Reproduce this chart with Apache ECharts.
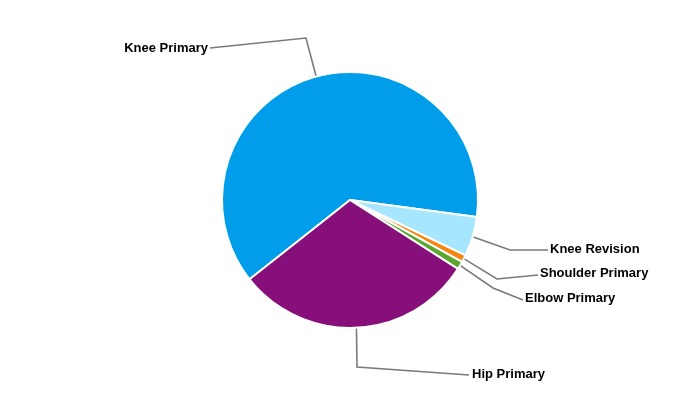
<!DOCTYPE html>
<html>
<head>
<meta charset="utf-8">
<script src="https://cdn.jsdelivr.net/npm/echarts@6/dist/echarts.min.js"></script>
<style>html,body{margin:0;padding:0;background:#fff;}#c{width:700px;height:400px;}</style>
</head>
<body>
<div id="c"></div>
<script>
const categories = ['Knee Primary', 'Knee Revision', 'Shoulder Primary', 'Elbow Primary', 'Hip Primary'];
const values = [62.7, 5.0, 0.9, 1.0, 30.3];
const colors = ['#009EEA', '#A6E6FE', '#F7840C', '#59A631', '#870F7A'];

// label anchor, alignment and leader-line bend for each slice (layout only)
const labelSpots = [
  { x: 208, y: 48, align: 'right', bend: [306, 38], end: [210, 48] },
  { x: 550, y: 249, align: 'left', bend: [510, 250], end: [548, 250] },
  { x: 540, y: 273, align: 'left', bend: [497, 279], end: [538, 275] },
  { x: 525, y: 298, align: 'left', bend: [493, 288], end: [523, 300] },
  { x: 472, y: 374, align: 'left', bend: [357, 367], end: [469, 375] }
];

const chart = echarts.init(document.getElementById('c'), null, { renderer: 'canvas' });
chart.setOption({
  animation: false,
  series: [{
    type: 'pie',
    center: [350, 200],
    radius: 128,
    startAngle: 218.3,
    clockwise: true,
    itemStyle: { borderColor: '#ffffff', borderWidth: 2 },
    label: {
      show: true,
      position: 'outside',
      formatter: '{b}',
      color: '#000',
      fontFamily: 'Liberation Sans, Arial, sans-serif',
      fontWeight: 'bold',
      fontSize: 13
    },
    labelLine: {
      show: true,
      length: 20,
      length2: 20,
      smooth: false,
      lineStyle: { color: '#7a7a7a', width: 1.6 }
    },
    labelLayout: function (params) {
      const s = labelSpots[params.dataIndex];
      const p0 = params.labelLinePoints ? params.labelLinePoints[0] : s.bend;
      return {
        x: s.x,
        y: s.y,
        align: s.align,
        verticalAlign: 'middle',
        labelLinePoints: [p0, s.bend, s.end]
      };
    },
    data: categories.map((name, i) => ({ name: name, value: values[i], itemStyle: { color: colors[i] } }))
  }]
});
</script>
</body>
</html>
